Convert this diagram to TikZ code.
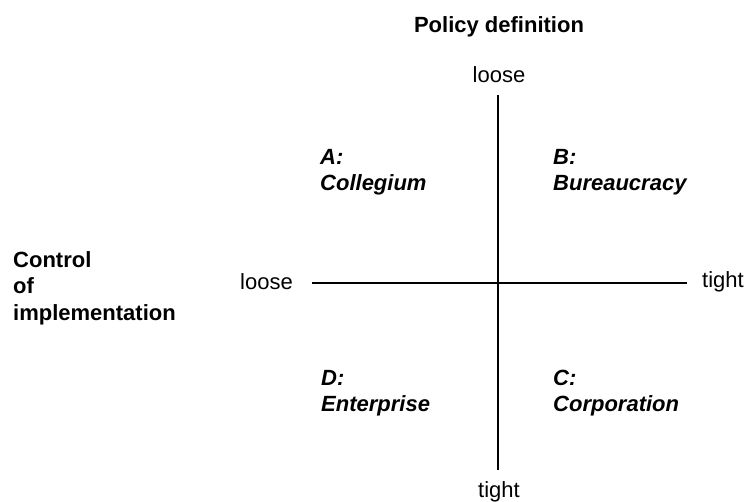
\documentclass[tikz,border=0pt]{standalone}
\usepackage{fontspec}
\setmainfont{Liberation Sans}
\begin{document}
\begin{tikzpicture}[x=1pt,y=-1pt,
  lbl/.style={inner sep=0pt,font=\fontsize{22}{26.5}\selectfont},
  head/.style={lbl,font=\fontsize{22}{26.5}\selectfont\bfseries},
  quad/.style={lbl,align=left,anchor=base west,font=\fontsize{22}{25.5}\selectfont\bfseries\itshape},
  axis/.style={line width=2.8pt}]
\useasboundingbox[fill=white] (0,0) rectangle (746,501);
\node[head,anchor=base] (pd) at (499,32) {Policy definition};
\node[lbl,anchor=base] (ltop) at (499,82) {loose};
\node[lbl,anchor=base] (tbot) at (499,497) {tight};
\node[lbl,anchor=base east] (lleft) at (293,289) {loose};
\node[lbl,anchor=base west] (tright) at (702,287) {tight};
\coordinate (vt) at (498,95);
\coordinate (vb) at (498,470);
\coordinate (hl) at (312,283);
\coordinate (hr) at (687,283);
\draw[axis] (vt) -- (vb);
\draw[axis] (hl) -- (hr);
\node[head,align=left,anchor=base west,font=\fontsize{22}{26.5}\selectfont\bfseries] (ci) at (13,320) {Control\\of\\implementation};
\node[quad] (qa) at (320,190) {A:\\Collegium};
\node[quad] (qb) at (553,190) {B:\\Bureaucracy};
\node[quad] (qd) at (321,411) {D:\\Enterprise};
\node[quad] (qc) at (553,411) {C:\\Corporation};
\end{tikzpicture}
\end{document}
